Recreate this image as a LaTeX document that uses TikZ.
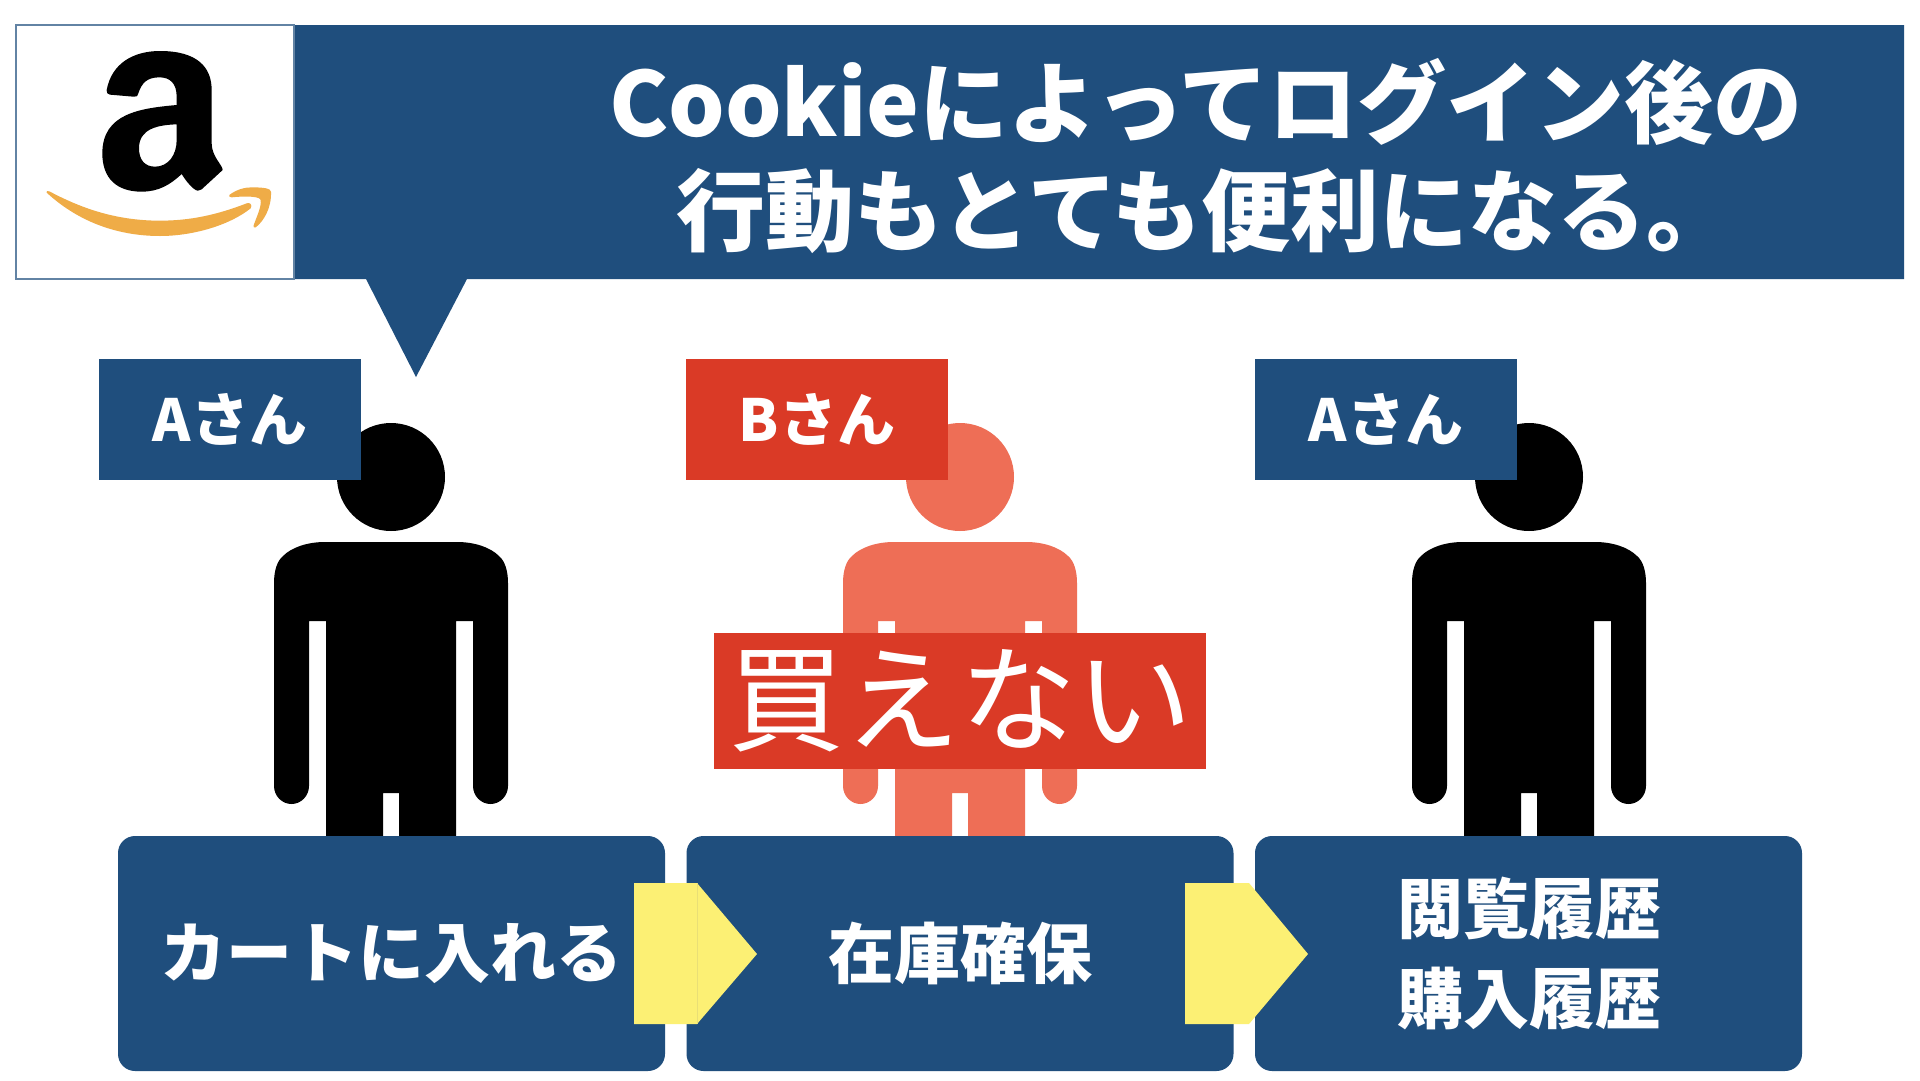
\documentclass[tikz,border=0pt]{standalone}
\usepackage{fontspec}
\setmainfont{Noto Sans CJK JP}
\usetikzlibrary{positioning}
\definecolor{navy}{HTML}{1F4E7D}
\definecolor{deepred}{HTML}{DA3A26}
\definecolor{salmon}{HTML}{EE6E56}
\definecolor{lemon}{HTML}{FCF074}
\definecolor{smile}{HTML}{EFAC47}
\tikzset{
 title/.style={text=white,font=\bfseries\fontsize{89}{100}\selectfont},
 step label/.style={text=white,font=\bfseries\fontsize{66}{74}\selectfont},
 name tag/.style={text=white,minimum width=262pt,minimum height=121pt,inner sep=0pt,font=\bfseries\fontsize{58}{64}\selectfont},
 step box/.style={fill=navy,minimum width=547pt,minimum height=235pt,inner sep=0pt,rounded corners=17pt},
}
\begin{document}
\begin{tikzpicture}[x=1pt,y=-1pt]
 \useasboundingbox (0,0) rectangle (1920,1080);
 \fill[white](0,0) rectangle (1920,1080);
 \fill[navy](16,25)--(1904,25)--(1904,279)--(467,279)--(416,377)--(366,279)--(16,279)--cycle;
 \filldraw[fill=white,draw=navy!70,line width=1.5pt](16,25) rectangle (294,279);
 \begin{scope}[scale=1/3]
  \fill[black,even odd rule](320,270) .. controls (335,190) and (400,153) .. (480,153) .. controls (590,153) and (635,200) .. (635,270) -- (635,430) .. controls (635,470) and (668,495) .. (668,510) -- (605,568) .. controls (598,574) and (590,574) .. (580,565) .. controls (565,552) and (555,538) .. (545,522) .. controls (510,555) and (475,575) .. (425,575) .. controls (350,575) and (307,535) .. (307,460) .. controls (307,340) and (420,325) .. (530,315) -- (530,290) .. controls (530,250) and (510,232) .. (478,232) .. controls (440,232) and (425,250) .. (415,280) .. controls (412,290) and (408,291) .. (400,290) -- (330,284) .. controls (322,283) and (319,278) .. (320,270) -- cycle
  (530,373) .. controls (475,375) and (417,385) .. (417,445) .. controls (417,480) and (435,500) .. (465,500) .. controls (505,500) and (530,465) .. (530,420) -- cycle;
  \fill[smile](140,578) .. controls (240,670) and (360,708) .. (480,708) .. controls (580,708) and (690,675) .. (752,625) .. controls (758,615) and (750,606) .. (740,610) .. controls (650,645) and (570,662) .. (480,662) .. controls (340,662) and (235,620) .. (148,574) .. controls (142,571) and (137,574) .. (140,578) -- cycle;
  \fill[smile](688,585) .. controls (710,568) and (735,562) .. (755,562) .. controls (790,562) and (812,565) .. (813,575) .. controls (815,625) and (790,665) .. (767,682) .. controls (762,685) and (759,681) .. (761,676) .. controls (770,650) and (785,620) .. (782,600) .. controls (780,590) and (745,587) .. (695,592) .. controls (688,592) and (686,588) .. (688,585) -- cycle;
 \end{scope}
 \node[title] (line one) at (1206,102) {Cookieによってログイン後の};
 \node[title] (line two) at (1206,211) {行動もとても便利になる。};
 \foreach \px/\col in {0/black,569/salmon,1138/black}{
  \begin{scope}[xshift=\px pt]
   \fill[\col](391,477) circle (54pt);
   \fill[\col](274,583) .. controls (274,571) and (277,561) .. (283,556) .. controls (292,547) and (308,542) .. (325,542) -- (457,542) .. controls (474,542) and (490,547) .. (499,556) .. controls (505,561) and (508,571) .. (508,583) -- (508,786) .. controls (508,796) and (500,804) .. (490.5,804) .. controls (481,804) and (473,796) .. (473,786) -- (473,621) -- (456,621) -- (456,840) -- (399,840) -- (399,793) -- (383,793) -- (383,840) -- (326,840) -- (326,621) -- (309,621) -- (309,786) .. controls (309,796) and (301,804) .. (291.5,804) .. controls (282,804) and (274,796) .. (274,786) -- cycle;
  \end{scope}
 }
 \node[name tag,fill=navy] (tag a) at (230,419) {Aさん};
 \node[name tag,fill=deepred] (tag b) at (817,419) {Bさん};
 \node[name tag,fill=navy] (tag c) at (1386,419) {Aさん};
 \node[fill=deepred,text=white,minimum width=492pt,minimum height=136pt,inner sep=0pt,font=\fontsize{116}{130}\selectfont] (no buy) at (960,701) {買えない};
 \node[step box] (cart) at (391.5,953.5) {};
 \node[step box] (stock) at (960,953.5) {};
 \node[step box] (history) at (1528.5,953.5) {};
 \node[step label] (cart text) at (cart) {カートに入れる};
 \node[step label] (stock text) at (stock) {在庫確保};
 \node[step label] (view text) at (1529,908) {閲覧履歴};
 \node[step label] (buy text) at (1529,999) {購入履歴};
 \fill[lemon](634,883)--(697,883)--(757,954)--(697,1024)--(634,1024)--cycle;
 \draw[lemon!85!gray,very thin](697,883)--(697,1024);
 \fill[lemon](1185,883)--(1249,883)--(1308,954)--(1249,1024)--(1185,1024)--cycle;
\end{tikzpicture}
\end{document}
